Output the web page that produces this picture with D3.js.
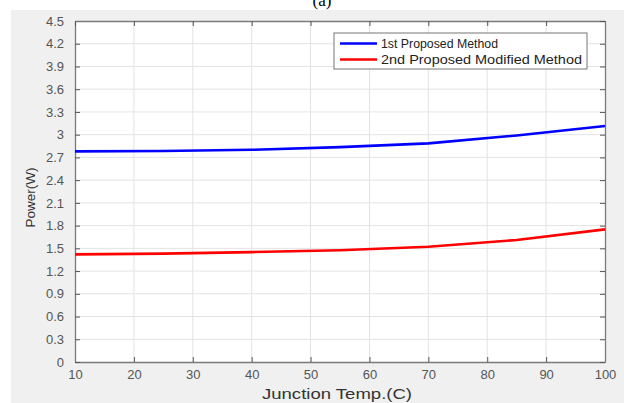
<!DOCTYPE html>
<html>
<head>
<meta charset="utf-8">
<script src="https://cdn.jsdelivr.net/npm/d3@7"></script>
<style>
  body { margin: 0; background: #fff; }
  svg { display: block; }
  .tick text { font-family: "Liberation Sans", Arial, sans-serif; font-size: 13px; fill: #555; }
</style>
</head>
<body>
<script>
// chart data
var temps = [10, 25, 40, 55, 70, 85, 100];
var firstMethod = [2.78, 2.785, 2.80, 2.835, 2.885, 2.99, 3.115];
var secondMethod = [1.42, 1.43, 1.45, 1.475, 1.52, 1.61, 1.75];
var seriesNames = ["1st Proposed Method", "2nd Proposed Modified Method"];
var xTicks = [10, 20, 30, 40, 50, 60, 70, 80, 90, 100];
var yTicks = [0, 0.3, 0.6, 0.9, 1.2, 1.5, 1.8, 2.1, 2.4, 2.7, 3, 3.3, 3.6, 3.9, 4.2, 4.5];

var w = 624, h = 403;
var plotLeft = 75, plotRight = 605, plotTop = 21, plotBottom = 362;

var svg = d3.select("body").append("svg")
  .attr("width", w)
  .attr("height", h);

// gray figure background
svg.append("rect")
  .attr("x", 11).attr("y", 10)
  .attr("width", w - 11).attr("height", h - 10)
  .attr("fill", "#f0f0f0");

// caption cut off at top
svg.append("text")
  .attr("x", 322).attr("y", 6)
  .attr("text-anchor", "middle")
  .style("font-family", "Liberation Serif, Times New Roman, serif")
  .style("font-size", "17px")
  .text("(a)");

var xScale = d3.scaleLinear().domain([10, 100]).range([plotLeft, plotRight]);
var yScale = d3.scaleLinear().domain([0, 4.5]).range([plotBottom, plotTop]);

svg.append("rect")
  .attr("x", plotLeft).attr("y", plotTop)
  .attr("width", plotRight - plotLeft).attr("height", plotBottom - plotTop)
  .attr("fill", "#fff");

// grid
svg.append("g").selectAll("line")
  .data(xTicks.slice(1, -1))
  .enter().append("line")
  .attr("x1", function(d) { return xScale(d); })
  .attr("x2", function(d) { return xScale(d); })
  .attr("y1", plotTop).attr("y2", plotBottom)
  .attr("stroke", "#e3e3e3").attr("stroke-width", 1);

svg.append("g").selectAll("line")
  .data(yTicks.slice(1, -1))
  .enter().append("line")
  .attr("y1", function(d) { return yScale(d); })
  .attr("y2", function(d) { return yScale(d); })
  .attr("x1", plotLeft).attr("x2", plotRight)
  .attr("stroke", "#e3e3e3").attr("stroke-width", 1);

// axes with inward ticks
var xAxis = d3.axisBottom(xScale).tickValues(xTicks).tickSizeInner(-5).tickSizeOuter(0).tickPadding(8);
var yAxis = d3.axisLeft(yScale).tickValues(yTicks).tickSizeInner(-5).tickSizeOuter(0).tickPadding(11)
  .tickFormat(function(d) { return d3.format("")(+d.toFixed(1)); });

svg.append("g")
  .attr("transform", "translate(0," + plotBottom + ")")
  .call(xAxis);
svg.append("g")
  .attr("transform", "translate(" + plotLeft + ",0)")
  .call(yAxis);

svg.append("g")
  .attr("transform", "translate(0," + plotTop + ")")
  .call(d3.axisTop(xScale).tickValues(xTicks).tickSizeInner(-5).tickSizeOuter(0).tickFormat(""));
svg.append("g")
  .attr("transform", "translate(" + plotRight + ",0)")
  .call(d3.axisRight(yScale).tickValues(yTicks).tickSizeInner(-5).tickSizeOuter(0).tickFormat(""));

svg.selectAll(".domain").attr("stroke", "#7a7a7a").attr("stroke-width", 1.3);
svg.selectAll(".tick line").attr("stroke", "#555");

// lines
var line = d3.line()
  .x(function(d) { return xScale(d[0]); })
  .y(function(d) { return yScale(d[1]); });

var colors = ["#0000ff", "#ff0000"];
[firstMethod, secondMethod].forEach(function(vals, i) {
  svg.append("path")
    .datum(temps.map(function(t, j) { return [t, vals[j]]; }))
    .attr("d", line)
    .attr("fill", "none")
    .attr("stroke", colors[i])
    .attr("stroke-width", 2.6);
});

// labels
svg.append("text")
  .attr("x", (plotLeft + plotRight) / 2 - 3).attr("y", 399)
  .attr("text-anchor", "middle")
  .attr("textLength", 150)
  .attr("lengthAdjust", "spacingAndGlyphs")
  .style("font-family", "Liberation Sans, Arial, sans-serif")
  .style("font-size", "14px").style("fill", "#333")
  .text("Junction Temp.(C)");

svg.append("text")
  .attr("transform", "translate(35," + ((plotTop + plotBottom) / 2 + 6) + ") rotate(-90)")
  .attr("text-anchor", "middle")
  .style("font-family", "Liberation Sans, Arial, sans-serif")
  .style("font-size", "13.5px").style("fill", "#333")
  .text("Power(W)");

// legend
var legend = svg.append("g");
legend.append("rect")
  .attr("x", 334).attr("y", 33)
  .attr("width", 253).attr("height", 36)
  .attr("fill", "#fff").attr("stroke", "#777").attr("stroke-width", 1);

var legendWidths = [117, 201];
seriesNames.forEach(function(name, i) {
  var ly = 43.5 + i * 16;
  legend.append("line")
    .attr("x1", 340).attr("x2", 377)
    .attr("y1", ly).attr("y2", ly)
    .attr("stroke", colors[i]).attr("stroke-width", 2.6);
  legend.append("text")
    .attr("x", 381).attr("y", ly + 4)
    .attr("textLength", legendWidths[i])
    .attr("lengthAdjust", "spacingAndGlyphs")
    .style("font-family", "Liberation Sans, Arial, sans-serif")
    .style("font-size", "12px").style("fill", "#222")
    .text(name);
});
</script>
</body>
</html>
